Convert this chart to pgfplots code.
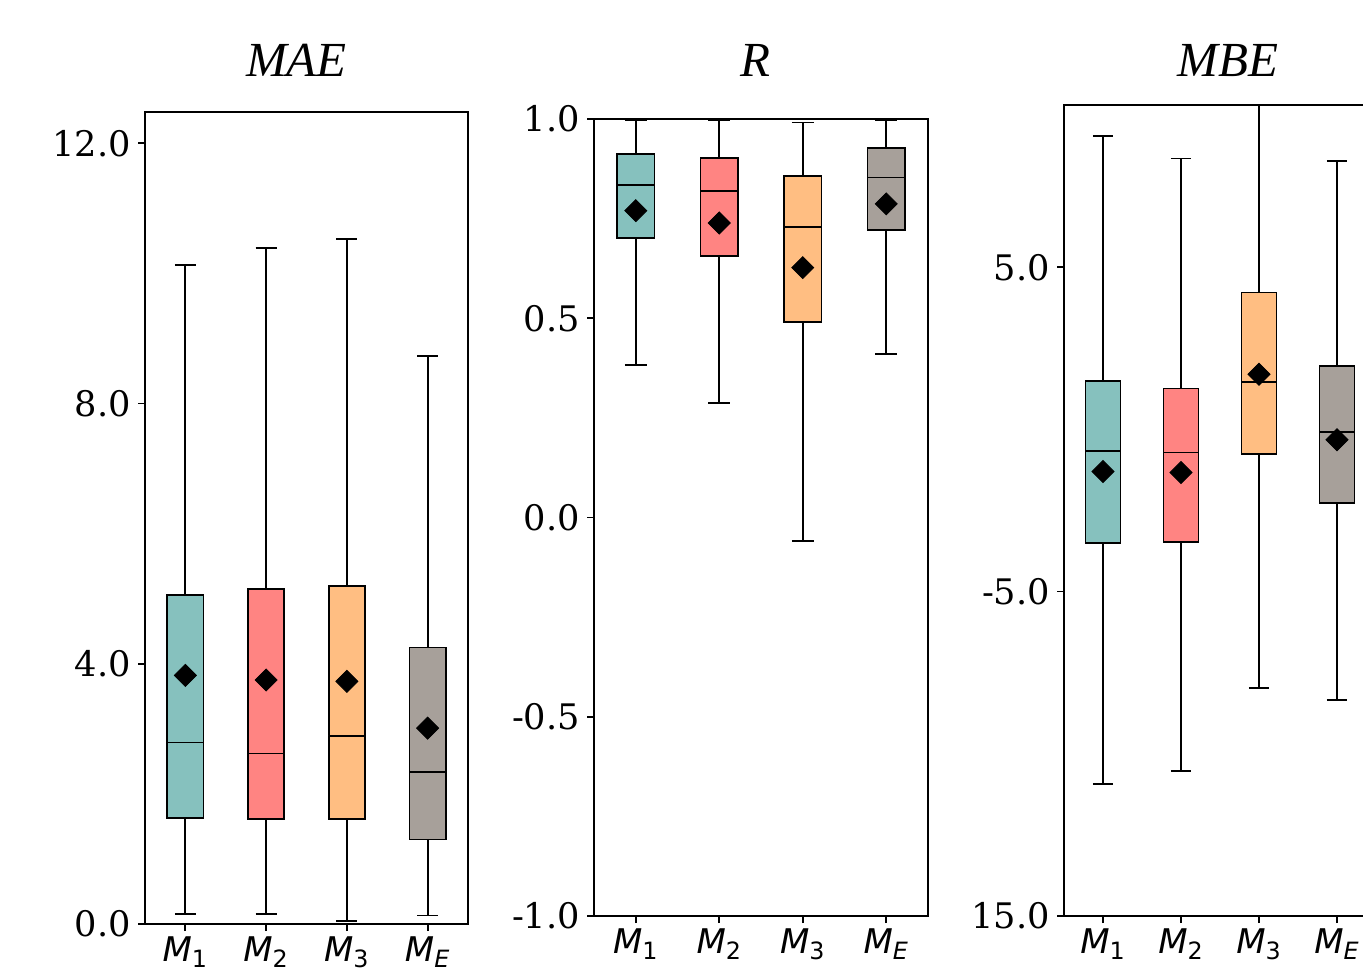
\documentclass[border=0pt]{standalone}
\usepackage{fontspec}
\setmainfont{DejaVu Serif}
\newfontfamily\titlefont{Liberation Serif}
\newfontfamily\dvs{DejaVu Sans}
\usepackage{pgfplots}
\pgfplotsset{compat=1.18}
\usepgfplotslibrary{statistics}
\definecolor{cA}{RGB}{134,193,190}
\definecolor{cB}{RGB}{255,132,130}
\definecolor{cC}{RGB}{255,190,130}
\definecolor{cD}{RGB}{167,160,154}
\newcommand{\ml}[1]{{\dvs\itshape M}\textsubscript{\dvs #1}}
\pgfplotsset{
  mystyle/.style={
    anchor=south west, scale only axis,
    xmin=0.5, xmax=4.5,
    xtick={1,2,3,4},
    xticklabels={\ml{1},\ml{2},\ml{3},\ml{\itshape E}},
    tick align=outside, xtick pos=bottom, ytick pos=left,
    major tick length=3.5pt,
    tick style={black, line width=0.9pt},
    axis line style={line width=0.9pt},
    ticklabel style={font=\fontsize{17.6}{20}\selectfont},
    x tick label style={font=\dvs\fontsize{17}{20}\selectfont, yshift=0.5pt},
    boxplot/draw direction=y,
    boxplot/box extend=0.45,
    boxplot/whisker extend=0.26,
  },
  bx/.style={draw=black, line width=0.9pt, fill=#1},
  mn/.style={only marks, mark=square*, mark size=3.9pt, mark options={rotate=45, fill=black, draw=black}},
}
\begin{document}
\begin{tikzpicture}
% ---------------- MAE
\begin{axis}[mystyle, at={(72.5pt,24.5pt)}, width=161.5pt, height=406pt,
  ymin=0, ymax=12.48, ytick={0,4,8,12}, yticklabels={0.0,4.0,8.0,12.0},
  title={\titlefont\itshape\fontsize{24.5}{28}\selectfont MAE},
  every axis title/.style={at={(0.5,1)}, anchor=base, yshift=17.5pt, xshift=-5pt}]
\addplot[bx=cA, boxplot prepared={draw position=1, lower whisker=0.15, lower quartile=1.63, median=2.79, upper quartile=5.06, upper whisker=10.13}] coordinates {};
\addplot[bx=cB, boxplot prepared={draw position=2, lower whisker=0.15, lower quartile=1.61, median=2.62, upper quartile=5.15, upper whisker=10.39}] coordinates {};
\addplot[bx=cC, boxplot prepared={draw position=3, lower whisker=0.05, lower quartile=1.61, median=2.89, upper quartile=5.19, upper whisker=10.53}] coordinates {};
\addplot[bx=cD, boxplot prepared={draw position=4, lower whisker=0.13, lower quartile=1.30, median=2.34, upper quartile=4.25, upper whisker=8.73}] coordinates {};
\addplot[mn] coordinates {(1,3.82) (2,3.75) (3,3.73) (4,3.01)};
\end{axis}
% ---------------- R
\begin{axis}[mystyle, at={(297pt,28.5pt)}, width=167pt, height=398.5pt,
  ymin=-1, ymax=1, ytick={-1,-0.5,0,0.5,1}, yticklabels={-1.0,-0.5,0.0,0.5,1.0},
  title={\titlefont\itshape\fontsize{24.5}{28}\selectfont R},
  every axis title/.style={at={(0.5,1)}, anchor=base, yshift=21pt, xshift=-3pt}]
\addplot[bx=cA, boxplot prepared={draw position=1, lower whisker=0.383, lower quartile=0.702, median=0.835, upper quartile=0.913, upper whisker=0.997}] coordinates {};
\addplot[bx=cB, boxplot prepared={draw position=2, lower whisker=0.288, lower quartile=0.657, median=0.820, upper quartile=0.903, upper whisker=0.997}] coordinates {};
\addplot[bx=cC, boxplot prepared={draw position=3, lower whisker=-0.058, lower quartile=0.490, median=0.729, upper quartile=0.856, upper whisker=0.991}] coordinates {};
\addplot[bx=cD, boxplot prepared={draw position=4, lower whisker=0.410, lower quartile=0.721, median=0.853, upper quartile=0.927, upper whisker=0.998}] coordinates {};
\addplot[mn] coordinates {(1,0.770) (2,0.739) (3,0.627) (4,0.787)};
\end{axis}
% ---------------- MBE
\begin{axis}[mystyle, at={(532pt,28.5pt)}, width=156pt, height=405.5pt,
  ymin=-15, ymax=10.0, ytick={-15,-5,5}, yticklabels={15.0,-5.0,5.0},
  title={\titlefont\itshape\fontsize{24.5}{28}\selectfont MBE},
  every axis title/.style={at={(0.5,1)}, anchor=base, yshift=14pt, xshift=4pt}]
\addplot[bx=cA, boxplot prepared={draw position=1, lower whisker=-10.94, lower quartile=-3.51, median=-0.66, upper quartile=1.50, upper whisker=9.04}] coordinates {};
\addplot[bx=cB, boxplot prepared={draw position=2, lower whisker=-10.52, lower quartile=-3.46, median=-0.71, upper quartile=1.26, upper whisker=8.35}] coordinates {};
\addplot[bx=cC, boxplot prepared={draw position=3, lower whisker=-7.96, lower quartile=-0.77, median=1.46, upper quartile=4.22, upper whisker=10.8}] coordinates {};
\addplot[bx=cD, boxplot prepared={draw position=4, lower whisker=-8.34, lower quartile=-2.26, median=-0.08, upper quartile=1.96, upper whisker=8.28}] coordinates {};
\addplot[mn] coordinates {(1,-1.30) (2,-1.33) (3,1.70) (4,-0.32)};
\end{axis}
\pgfresetboundingbox
\path[use as bounding box] (0,0) rectangle (681.5pt,486.5pt);
\end{tikzpicture}
\end{document}
